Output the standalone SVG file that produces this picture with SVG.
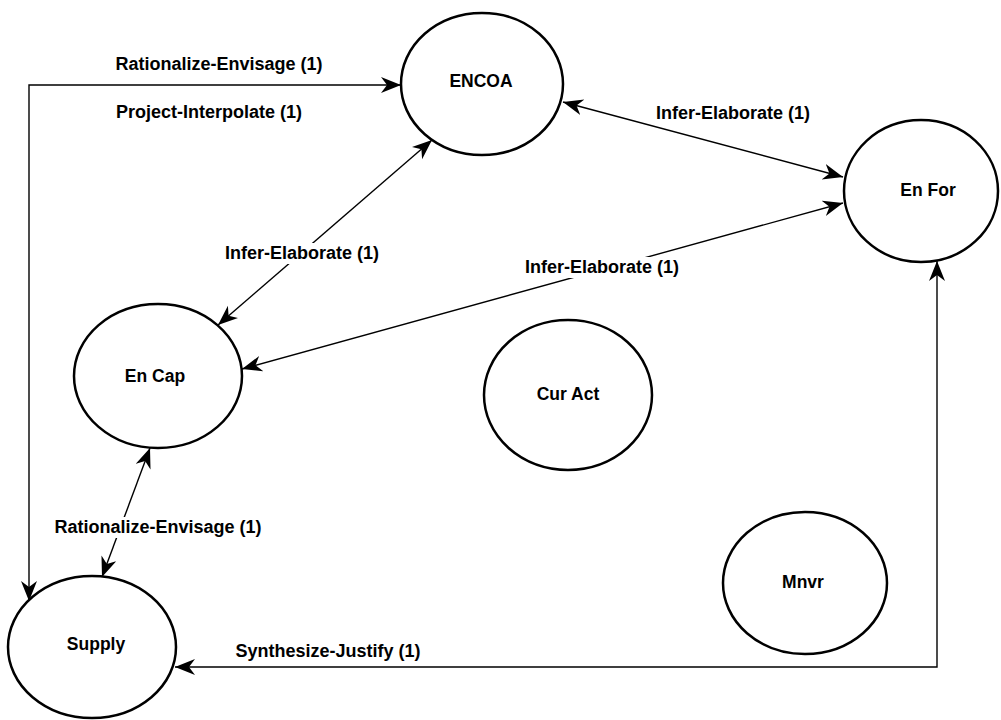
<svg xmlns="http://www.w3.org/2000/svg" width="1001" height="720" viewBox="0 0 1001 720">
<style>
.node ellipse{fill:#fff;stroke:#000;stroke-width:2.5}
.node text{font-family:"Liberation Sans",Arial,sans-serif;font-weight:bold;font-size:17.5px;text-anchor:middle;fill:#000}
.edge{fill:none;stroke:#000;stroke-width:1.4;marker-start:url(#ah);marker-end:url(#ah)}
.lbl{font-family:"Liberation Sans",Arial,sans-serif;font-weight:bold;font-size:18px;text-anchor:middle;fill:#000}
.bg{fill:#fff}
</style>
<defs>
<marker id="ah" markerUnits="userSpaceOnUse" markerWidth="22" markerHeight="18" refX="20" refY="8" orient="auto-start-reverse">
<path d="M0,0 L20,8 L0,16 L6,8 Z" fill="#000"/>
</marker>
</defs>
<rect width="1001" height="720" fill="#fff"/>
<g id="connectors">
<path class="edge" d="M401,85 L29,85 L29,601"/>
<path class="edge" d="M563,102 L843,177"/>
<path class="edge" d="M432,140 L218,325"/>
<path class="edge" d="M242,369 L843,203"/>
<path class="edge" d="M150,448 L102,577"/>
<path class="edge" d="M937,261 L937,667 L175,667"/>
<text class="lbl" x="219" y="70">Rationalize-Envisage (1)</text>
<text class="lbl" x="209" y="118">Project-Interpolate (1)</text>
<text class="lbl" x="733" y="119">Infer-Elaborate (1)</text>
<rect class="bg" x="224" y="243" width="157" height="21"/>
<text class="lbl" x="302" y="259">Infer-Elaborate (1)</text>
<rect class="bg" x="524" y="257" width="157" height="21"/>
<text class="lbl" x="602" y="273">Infer-Elaborate (1)</text>
<rect class="bg" x="54" y="517" width="209" height="21"/>
<text class="lbl" x="158" y="533">Rationalize-Envisage (1)</text>
<text class="lbl" x="328" y="657">Synthesize-Justify (1)</text>
</g>
<g id="node-encoa" class="node"><ellipse cx="482" cy="84" rx="81" ry="71"/><text x="481" y="87">ENCOA</text></g>
<g id="node-enfor" class="node"><ellipse cx="921" cy="191" rx="77" ry="71"/><text x="928" y="196">En For</text></g>
<g id="node-encap" class="node"><ellipse cx="158" cy="376" rx="84" ry="72"/><text x="155" y="382">En Cap</text></g>
<g id="node-curact" class="node"><ellipse cx="568" cy="395" rx="84" ry="75"/><text x="568" y="400">Cur Act</text></g>
<g id="node-mnvr" class="node"><ellipse cx="805" cy="583" rx="82" ry="71"/><text x="803" y="588">Mnvr</text></g>
<g id="node-supply" class="node"><ellipse cx="92" cy="647" rx="84" ry="71"/><text x="96" y="650">Supply</text></g>
</svg>
